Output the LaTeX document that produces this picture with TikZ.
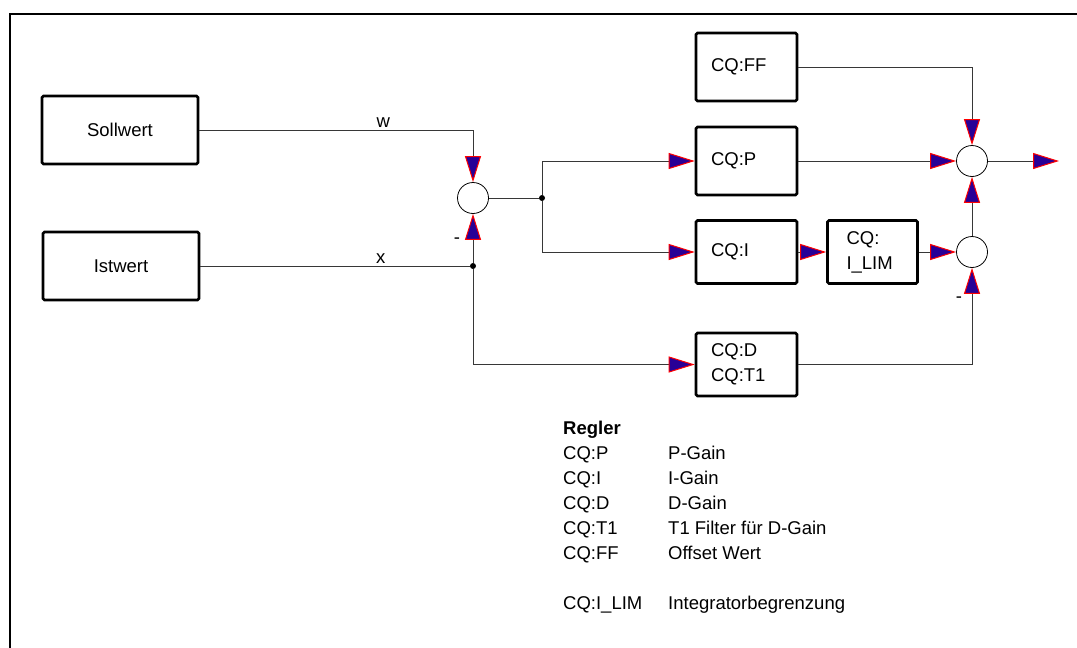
\documentclass[tikz,border=0pt]{standalone}
\usepackage{fontspec}
\setmainfont{Liberation Sans}
\usetikzlibrary{arrows.meta,positioning,calc}
\definecolor{arrblue}{RGB}{40,0,150}
\definecolor{wiregray}{RGB}{55,55,55}
\tikzset{
  blk/.style={draw, line width=2.6pt, rounded corners=1.5pt, minimum height=63pt,
    text width=71pt, inner xsep=15pt, align=left},
  srcblk/.style={draw, line width=2.6pt, rounded corners=1.5pt, minimum width=156pt,
    minimum height=68pt, inner sep=0pt},
  sumpt/.style={circle, draw, line width=0.8pt, minimum size=31pt, inner sep=0pt},
  sig/.style={draw=wiregray, line width=0.9pt,
    -{Triangle[length=26pt,width=16pt,color=red,fill=arrblue,line width=1pt]}},
  wire/.style={draw=wiregray, line width=0.9pt},
  jdot/.style={circle, fill=black, inner sep=0pt, minimum size=6pt},
}

\begin{document}
\begin{tikzpicture}[x=1pt, y=-1pt, font=\fontsize{18.5}{25}\selectfont]
  \useasboundingbox (0,0) rectangle (1077,648);
  \clip (0,0) rectangle (1077,648);
  % outer frame (runs off the page on the right and bottom)
  \draw[line width=2pt] (10,14) rectangle (1100,670);

  % sources and blocks
  \node[srcblk] (soll) at (120,130) {Sollwert};
  \node[srcblk] (ist) at (121,266) {Istwert};
  \node[sumpt] (s1) at (473,198) {};
  \node[blk, minimum height=68pt] (ff) at (746.5,67) {CQ:FF};
  \node[blk, minimum height=68pt] (p) at (746.5,161) {CQ:P};
  \node[blk] (i) at (746.5,252) {CQ:I};
  \node[blk, text width=52pt, inner xsep=19pt] (lim) at (872.5,252) {CQ:\\I\_LIM};
  \node[blk] (d) at (746.5,364.5) {CQ:D\\CQ:T1};
  \node[sumpt] (s2) at (972,161) {};
  \node[sumpt] (s3) at (972,252) {};
  \node[jdot] (j1) at (542,198) {};
  \node[jdot] (j2) at (473,266) {};
  \coordinate (out) at (1059,161);

  % signal lines
  \draw[sig] (soll.east) -| node[pos=0.336, above, inner sep=2pt] {w} (s1.north);
  \draw[wire] (ist.east) -- node[pos=0.67, above, inner sep=2pt] {x} (j2);
  \draw[sig] (j2) -- (s1.south);
  \draw[sig] (j2) |- (d.west);
  \draw[wire] (s1.east) -- (j1);
  \draw[sig] (j1) |- (p.west);
  \draw[sig] (j1) |- (i.west);
  \draw[sig] (i.east) -- (lim.west);
  \draw[sig] (lim.east) -- (s3.west);
  \draw[sig] (p.east) -- (s2.west);
  \draw[sig] (ff.east) -| (s2.north);
  \draw[sig] (s3.north) -- (s2.south);
  \draw[sig] (d.east) -| (s3.south);
  \draw[sig] (s2.east) -- (out);
  \node (neg1) at (457,241) {-};
  \node (neg2) at (959,300) {-};

  % legend
  \node[anchor=base west, inner sep=0pt] (regler) at (563,434.7) {\bfseries Regler};
  \foreach \key/\txt/\yy [count=\n] in {CQ:P/P-Gain/453, CQ:I/I-Gain/478,
      CQ:D/D-Gain/503, CQ:T1/T1 Filter für D-Gain/528, CQ:FF/Offset Wert/553,
      CQ:I\_LIM/Integratorbegrenzung/603} {
    \node[anchor=base west, inner sep=0pt] (key\n) at (563,\yy+6.7) {\key};
    \node[anchor=base west, inner sep=0pt] (val\n) at (668,\yy+6.7) {\txt};
  }
\end{tikzpicture}
\end{document}
